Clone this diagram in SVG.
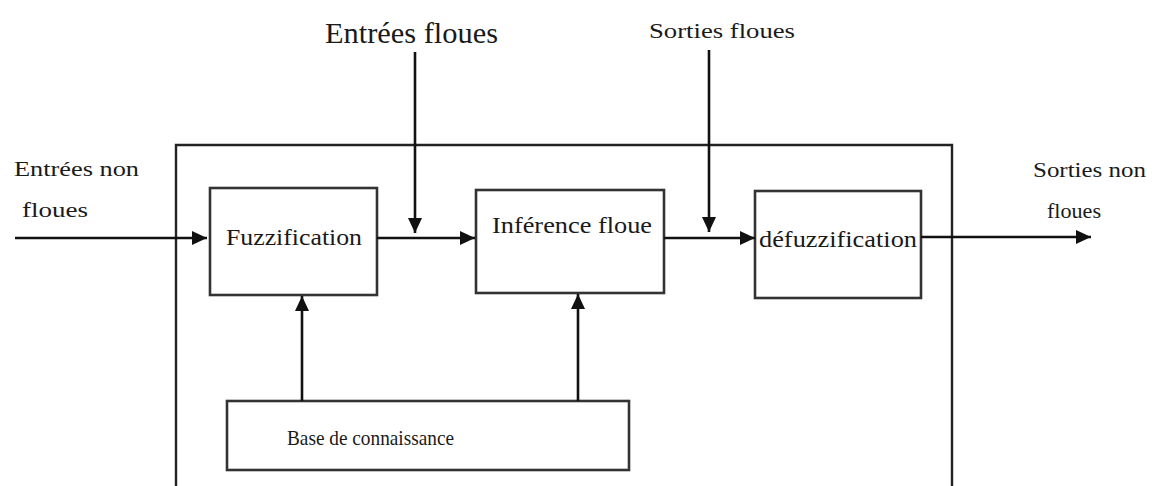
<svg xmlns="http://www.w3.org/2000/svg" width="1163" height="486" viewBox="0 0 1163 486">
<defs>
<marker id="ah" viewBox="0 0 10 10" refX="10" refY="5" markerWidth="15" markerHeight="14" markerUnits="userSpaceOnUse" orient="auto" preserveAspectRatio="none">
<path d="M0,0 L10,5 L0,10 Z" fill="#111"/>
</marker>
<style>
.box{fill:#fff;stroke:#333;stroke-width:2.6}
.edge{stroke:#111;stroke-width:2.6;fill:none;marker-end:url(#ah)}
text{font-family:"Liberation Serif","Times New Roman",serif;fill:#1a1a1a}
</style>
</defs>
<rect width="1163" height="486" fill="#fff"/>
<g id="outer"><path d="M176,490 L176,145 L952,145 L952,490" fill="none" stroke="#222" stroke-width="2.4"/></g>
<g id="fuzzification"><rect class="box" x="210" y="188" width="167" height="107"/><text x="226" y="245" font-size="24" textLength="136" lengthAdjust="spacingAndGlyphs">Fuzzification</text></g>
<g id="inference"><rect class="box" x="476" y="190" width="188" height="103"/><text x="492" y="233" font-size="23" textLength="160" lengthAdjust="spacingAndGlyphs">Inférence floue</text></g>
<g id="defuzzification"><rect class="box" x="755" y="191" width="166" height="107"/><text x="759" y="247" font-size="24" textLength="158" lengthAdjust="spacingAndGlyphs">défuzzification</text></g>
<g id="base"><rect class="box" x="227" y="401" width="402" height="69"/><text x="287" y="445" font-size="22" textLength="167" lengthAdjust="spacingAndGlyphs">Base de connaissance</text></g>
<g id="labels">
<text x="325" y="43" font-size="30" textLength="173" lengthAdjust="spacingAndGlyphs">Entrées floues</text>
<text x="649" y="38" font-size="22" textLength="146" lengthAdjust="spacingAndGlyphs">Sorties floues</text>
<text x="14" y="176" font-size="20" textLength="125" lengthAdjust="spacingAndGlyphs">Entrées non</text>
<text x="22" y="217" font-size="20" textLength="66" lengthAdjust="spacingAndGlyphs">floues</text>
<text x="1033" y="177" font-size="20" textLength="113" lengthAdjust="spacingAndGlyphs">Sorties non</text>
<text x="1047" y="218" font-size="20" textLength="54" lengthAdjust="spacingAndGlyphs">floues</text>
</g>
<g id="connectors">
<line class="edge" x1="15" y1="238" x2="207" y2="238"/>
<line class="edge" x1="377" y1="238" x2="475" y2="238"/>
<line class="edge" x1="664" y1="238" x2="755" y2="238"/>
<line class="edge" x1="921" y1="237" x2="1091" y2="237"/>
<line class="edge" x1="415" y1="52" x2="415" y2="233"/>
<line class="edge" x1="709" y1="50" x2="709" y2="232"/>
<line class="edge" x1="302" y1="401" x2="302" y2="296"/>
<line class="edge" x1="578" y1="401" x2="578" y2="294"/>
</g>
</svg>
